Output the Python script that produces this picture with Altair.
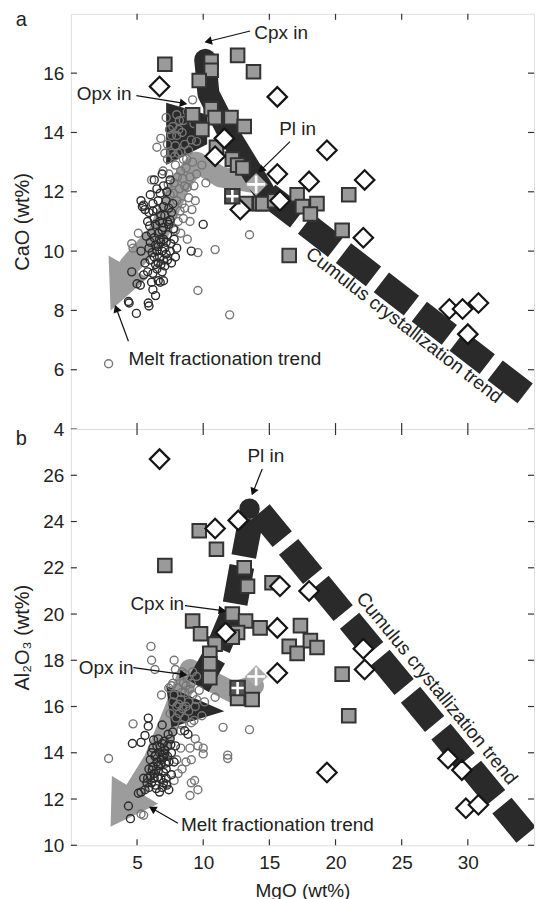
import math
import altair as alt
import pandas as pd

# ------------------------------------------------------------------ data
mgo_ticks = [5, 10, 15, 20, 25, 30]
cao_ticks = [4, 6, 8, 10, 12, 14, 16]
al_ticks = [10, 12, 14, 16, 18, 20, 22, 24, 26]

# ---- panel a : CaO vs MgO
a_circles_dark = [(4.35, 8.3), (4.4, 8.25), (4.95, 7.9), (5.85, 8.25), (5.9, 8.15), (6.4, 8.5), (5.25, 8.85),
                  (6.1, 8.95), (6.75, 8.95), (4.6, 9.3), (5.5, 9.2), (5.8, 9.3), (6.2, 9.25), (6.5, 9.4),
                  (6.9, 9.3), (7.1, 9.5), (7.3, 9.7), (5.6, 9.6), (6.0, 9.7), (6.3, 9.8), (6.7, 9.8),
                  (7.5, 10.0), (5.3, 10.0), (5.9, 10.1), (6.4, 10.2), (6.8, 10.3), (7.2, 10.3), (7.8, 10.4),
                  (5.7, 10.5), (6.1, 10.6), (6.6, 10.6), (7.0, 10.8), (7.4, 10.9), (5.8, 11.0), (6.3, 11.1),
                  (6.8, 11.2), (7.6, 11.3), (5.4, 11.5), (5.6, 11.4), (5.9, 11.3), (6.2, 11.6), (6.6, 11.7),
                  (7.2, 11.7), (6.0, 11.9), (6.5, 12.1), (7.0, 12.2), (6.3, 12.4), (6.9, 12.6), (5.0, 8.9),
                  (6.2, 8.7), (6.6, 9.0), (7.0, 9.0), (7.6, 9.6), (8.0, 10.1), (7.9, 9.8), (6.5, 10.0),
                  (6.9, 10.0), (7.1, 10.1), (6.7, 10.4), (6.9, 10.7), (7.3, 11.0), (6.4, 10.9), (6.5, 11.4),
                  (7.0, 11.5), (10.0, 10.9), (9.1, 10.0), (5.3, 11.7), (5.5, 11.55),
                  (6.6, 9.6), (6.8, 9.55), (7.0, 9.7), (7.2, 9.9), (6.4, 9.55), (6.6, 10.15), (7.0, 10.4),
                  (7.3, 10.55), (6.9, 10.95), (7.1, 11.2), (6.7, 11.0), (7.5, 11.05), (7.7, 11.6), (7.4, 11.45),
                  (6.3, 10.45), (6.0, 10.3), (6.15, 9.95), (7.55, 10.25), (7.75, 10.75), (7.25, 12.0),
                  (6.75, 11.95), (7.5, 12.4), (5.95, 10.85), (6.2, 11.35)]
a_circles_grey = [(2.85, 6.2), (4.7, 10.1), (6.1, 12.4), (6.97, 12.7), (6.5, 13.5), (6.8, 13.8), (7.6, 13.9),
                  (8.2, 14.4), (9.2, 15.1), (7.7, 14.2), (8.0, 13.9), (8.4, 14.0), (8.6, 13.6), (8.1, 13.3),
                  (8.5, 13.1), (8.9, 13.4), (9.2, 13.0), (7.6, 13.3), (7.9, 12.9), (8.3, 12.7), (8.7, 12.8),
                  (9.0, 12.5), (9.5, 12.6), (7.4, 12.6), (7.8, 12.3), (8.2, 12.1), (8.6, 12.2), (9.3, 12.2),
                  (7.5, 11.9), (8.0, 11.7), (8.4, 11.6), (8.9, 11.8), (9.4, 11.7), (7.7, 11.2), (8.1, 11.0),
                  (8.5, 11.1), (9.0, 11.0), (8.3, 10.6), (8.8, 10.4), (7.9, 10.7), (9.6, 9.95), (10.9, 10.05),
                  (10.2, 12.3), (9.6, 8.67), (12.0, 7.85), (13.5, 10.55), (9.8, 14.2), (7.2, 14.5), (8.8, 14.7),
                  (9.5, 13.7), (7.3, 13.1), (9.9, 12.9), (4.6, 10.25), (5.1, 10.6),
                  (7.3, 13.6), (7.9, 13.55), (8.3, 13.35), (8.75, 13.1), (9.1, 13.75), (8.0, 14.6), (8.5, 14.4),
                  (7.45, 14.1), (7.1, 13.3), (8.05, 12.5), (8.45, 12.45), (8.8, 12.15), (9.15, 11.4),
                  (7.75, 11.95), (8.25, 11.35), (8.6, 11.45), (7.35, 12.25), (9.3, 14.3), (8.15, 14.1),
                  (7.85, 13.2)]
a_squares = [(7.1, 16.3), (10.6, 16.4), (10.6, 16.1), (9.7, 15.75), (12.6, 16.6), (13.8, 16.05), (9.2, 14.6),
             (10.6, 14.8), (10.9, 14.5), (12.1, 14.5), (13.1, 14.2), (9.9, 14.1), (11.0, 13.5), (12.2, 13.1),
             (12.6, 12.9), (13.0, 12.8), (13.2, 11.6), (14.3, 11.6), (14.5, 11.6), (15.4, 11.7), (17.1, 11.9),
             (17.5, 11.5), (18.6, 11.6), (18.1, 11.25), (21.0, 11.9), (20.5, 10.7), (16.5, 9.85)]
a_diamonds = [(6.7, 15.55), (11.6, 13.8), (10.9, 13.2), (12.8, 11.4), (15.6, 12.6), (15.6, 15.2), (19.35, 13.4),
              (18.0, 12.35), (15.8, 11.7), (22.2, 12.4), (22.1, 10.45), (28.6, 8.05), (29.6, 8.05), (30.8, 8.25),
              (30.0, 7.2)]
a_plus_square = [(12.2, 11.85)]
a_plus_diamond = [(14.0, 12.25)]
a_cumulus_dashed = [(34.33, 5.2), (14.6, 12.0)]
a_cumulus_solid = [(14.6, 12.0), (12.0, 13.9), (10.4, 15.3), (10.15, 16.45)]
a_opx_wedge_x = [7.2, 10.3]
a_opx_wedge_top = [15.0, 14.6]
a_opx_wedge_bot = [12.9, 13.6]
a_melt = [(14.0, 12.3), (11.3, 12.5), (9.5, 13.0), (8.3, 12.3), (6.6, 10.6), (4.4, 9.5)]
a_melt_head_x = [2.85, 3.0, 5.8]
a_melt_head_top = [9.85, 9.81, 9.1]
a_melt_head_bot = [9.85, 8.0, 9.1]
a_labels = [("Cpx in", 13.86, 17.36), ("Opx in", 0.45, 15.31), ("Pl in", 15.74, 14.1),
            ("Melt fractionation trend", 4.35, 6.35)]
a_arrows = [(13.55, 17.42, 10.2, 17.05), (4.95, 15.24, 8.69, 14.97), (16.56, 13.69, 14.24, 12.68),
            (4.35, 6.96, 3.37, 8.14)]
a_trend_label = ("Cumulus crystallization trend", 25.18, 7.5)

# ---- panel b : Al2O3 vs MgO
b_circles_dark = [(4.35, 11.7), (4.5, 11.15), (5.1, 12.25), (5.3, 12.3), (5.6, 12.4), (5.9, 12.5), (6.1, 12.7),
                  (6.0, 13.0), (6.3, 13.1), (6.6, 13.2), (6.2, 13.4), (6.5, 13.6), (6.8, 13.5), (7.0, 13.8),
                  (6.4, 13.9), (6.7, 14.0), (7.1, 14.1), (7.3, 14.3), (6.9, 14.4), (6.2, 14.2), (6.6, 14.6),
                  (7.5, 14.6), (7.7, 14.9), (7.2, 13.3), (7.4, 13.6), (6.8, 12.9), (7.0, 12.7), (6.4, 12.6),
                  (5.8, 12.9), (5.6, 14.75), (5.3, 14.45), (4.65, 14.4), (5.85, 15.5), (5.85, 15.15), (6.0, 13.7),
                  (7.6, 14.0), (7.9, 14.3), (6.9, 15.2), (7.2, 12.9), (7.4, 12.4), (6.7, 12.3), (8.6, 14.95),
                  (8.85, 14.8), (6.1, 14.0), (6.35, 13.85), (6.9, 13.9), (7.15, 13.55), (6.55, 12.95), (7.0, 13.15),
                  (6.3, 12.9), (6.6, 13.45), (6.85, 13.7), (7.1, 13.95), (7.3, 13.85), (6.5, 14.3), (6.75, 14.25),
                  (7.05, 14.5), (7.35, 14.8), (6.15, 13.25), (6.45, 12.45), (6.9, 12.5), (7.25, 12.6),
                  (7.6, 13.05), (7.8, 13.6), (5.9, 13.3), (5.75, 12.7), (5.5, 12.9), (6.25, 14.55), (7.55, 14.35)]
b_circles_grey = [(2.85, 13.75), (4.7, 15.25), (5.5, 11.3), (5.3, 11.35), (6.05, 18.6), (6.1, 18.0), (6.35, 17.6),
                  (7.8, 18.0), (7.4, 16.8), (6.85, 16.5), (10.9, 16.4), (11.5, 15.1), (13.5, 15.0), (11.85, 13.9),
                  (11.85, 13.75), (9.0, 12.15), (9.6, 12.4), (9.1, 12.7), (8.1, 13.1), (7.2, 12.65), (9.0, 14.2),
                  (10.0, 14.2), (9.1, 13.7), (9.35, 12.8), (9.6, 14.3), (10.0, 13.95), (8.0, 16.0), (8.3, 16.3),
                  (8.6, 16.6), (8.9, 16.2), (9.2, 16.5), (8.1, 16.8), (8.5, 17.0), (8.8, 17.2), (9.1, 17.0),
                  (9.4, 16.0), (8.2, 15.7), (8.6, 15.5), (8.9, 15.8), (9.3, 15.4), (8.0, 17.3), (8.4, 17.5),
                  (9.5, 17.3), (7.7, 16.2), (7.5, 15.7), (9.7, 16.7), (9.9, 15.6), (10.1, 16.2), (7.7, 17.0),
                  (8.3, 14.2), (8.7, 13.6), (8.4, 13.3), (8.0, 13.7), (7.8, 12.8), (8.3, 14.95), (9.4, 14.6),
                  (7.8, 16.5), (8.15, 16.1), (8.45, 15.9), (8.7, 16.0), (9.0, 16.75), (8.35, 16.6), (8.7, 16.9),
                  (7.95, 15.5), (8.4, 15.2), (9.1, 15.3), (9.5, 16.3), (8.6, 17.4), (7.6, 16.9), (9.2, 17.5),
                  (7.9, 17.6)]
b_squares = [(7.1, 22.1), (9.7, 23.6), (11.0, 22.8), (13.1, 22.0), (13.35, 21.2), (9.2, 19.7), (9.8, 19.15),
             (10.9, 18.7), (10.5, 18.3), (10.5, 17.85), (10.5, 17.25), (12.2, 20.0), (13.2, 19.7), (12.6, 19.2),
             (12.2, 19.0), (14.3, 19.4), (12.6, 16.35), (13.7, 16.3), (15.2, 21.35), (17.35, 19.5), (16.5, 18.6),
             (17.1, 18.3), (18.1, 18.85), (18.6, 18.55), (20.5, 17.4), (21.0, 15.6)]
b_diamonds = [(6.7, 26.7), (10.9, 23.7), (12.65, 24.05), (11.7, 19.2), (15.8, 21.2), (18.0, 21.0), (15.6, 19.4),
              (15.6, 17.45), (22.1, 18.5), (22.2, 17.6), (19.35, 13.15), (28.5, 13.75), (29.55, 13.25),
              (29.85, 11.6), (30.8, 11.75)]
b_plus_square = [(12.6, 16.8)]
b_plus_diamond = [(14.0, 17.3)]
b_cumulus_dashed = [(34.4, 10.45), (14.3, 24.4)]
b_cumulus_upper = [(13.6, 24.1), (12.9, 22.0), (12.3, 20.1), (10.9, 18.2), (9.6, 16.9)]
b_pl_blob = [(13.5, 24.55)]
b_opx_wedge_x = [7.2, 7.6, 11.6]
b_opx_wedge_top = [16.9, 16.8, 15.8]
b_opx_wedge_bot = [16.9, 15.1, 15.8]
b_melt = [(13.8, 16.9), (12.3, 16.6), (10.6, 17.1), (9.0, 17.6), (7.8, 15.8), (6.3, 13.7), (4.9, 12.4)]
b_melt_head_x = [3.0, 3.1, 6.6]
b_melt_head_top = [10.8, 13.0, 11.8]
b_melt_head_bot = [10.8, 10.83, 11.8]
b_labels = [("Pl in", 13.34, 26.83), ("Cpx in", 4.5, 20.45), ("Opx in", 0.6, 17.68),
            ("Melt fractionation trend", 8.32, 10.86)]
b_arrows = [(14.46, 26.27, 13.71, 25.19), (8.62, 20.36, 11.62, 20.14), (4.72, 17.68, 8.69, 17.37),
            (8.09, 10.95, 6.0, 11.64)]
b_trend_label = ("Cumulus crystallization trend", 27.65, 16.78)

# ------------------------------------------------------------------ style
FONT = "Liberation Sans"
W = 464
HA, HB = 416, 417
XD = [0, 35]
CAO_D = [4, 18]
AL_D = [10, 28]
BLACK = "#2a2a2a"
GREY_BAND = "#9c9c9c"
TXT = "#222222"
TICK = "#333333"


def pts(pairs):
    return pd.DataFrame({"x": [p[0] for p in pairs], "y": [p[1] for p in pairs]})


def make_panel(d, ydom, H, ytitle, ytick_vals, letter, letter_y, bottom_labels, trend_angle):
    xs = alt.Scale(domain=XD, nice=False, zero=False)
    ys = alt.Scale(domain=ydom, nice=False, zero=False)

    # axes carrying labels / titles (ticks are drawn separately, inward); same definition on every layer
    common = dict(domain=False, grid=False, ticks=False, tickSize=0, labelFont=FONT, labelFontSize=19,
                  labelColor=TXT, labelFlush=False, labelOverlap=False, titleFont=FONT,
                  titleFontWeight="normal", titleColor=TXT)
    yaxis = alt.Axis(values=ytick_vals, labelPadding=7, title=ytitle, titleFontSize=20, titlePadding=10,
                     **common)
    if bottom_labels:
        xaxis = alt.Axis(values=mgo_ticks, labelPadding=8, title="MgO (wt%)", titleFontSize=19,
                         titlePadding=9, **common)
    else:
        xaxis = None

    def X(f="x"):
        return alt.X(f, type="quantitative", scale=xs, axis=xaxis)

    def Y(f="y"):
        return alt.Y(f, type="quantitative", scale=ys, axis=yaxis)

    sx = W / (XD[1] - XD[0])
    sy = H / (ydom[1] - ydom[0])
    layers = []

    # melt fractionation band (grey)
    melt = pts(d["melt"]).reset_index().rename(columns={"index": "i"})
    layers.append(alt.Chart(melt).mark_line(color=GREY_BAND, strokeWidth=21, strokeCap="round",
                                            strokeJoin="round", opacity=1, clip=True)
                  .encode(x=X(), y=Y(), order="i:Q"))
    head = pd.DataFrame({"x": d["melt_head"][0], "y": d["melt_head"][1], "y2": d["melt_head"][2]})
    layers.append(alt.Chart(head).mark_area(color=GREY_BAND, opacity=1).encode(x=X(), y=Y(), y2="y2"))

    # cumulus crystallisation trend (black)
    for path in d["cum_dashed"]:
        df = pts(path).reset_index().rename(columns={"index": "i"})
        layers.append(alt.Chart(df).mark_line(color=BLACK, strokeWidth=25, strokeDash=[38, 10],
                                              strokeCap="butt", strokeJoin="round", opacity=1, clip=True)
                      .encode(x=X(), y=Y(), order="i:Q"))
    if d.get("cum_solid"):
        df = pts(d["cum_solid"]).reset_index().rename(columns={"index": "i"})
        layers.append(alt.Chart(df).mark_line(color=BLACK, strokeWidth=22, strokeCap="round",
                                              strokeJoin="round", opacity=1, clip=True)
                      .encode(x=X(), y=Y(), order="i:Q"))
    if d.get("blob"):
        layers.append(alt.Chart(pts(d["blob"])).mark_point(shape="circle", filled=True, color=BLACK,
                                                          size=420, opacity=1)
                      .encode(x=X(), y=Y()))
    wedge = pd.DataFrame({"x": d["wedge"][0], "y": d["wedge"][1], "y2": d["wedge"][2]})
    layers.append(alt.Chart(wedge).mark_area(color=BLACK, opacity=1).encode(x=X(), y=Y(), y2="y2"))

    # samples
    layers.append(alt.Chart(pts(d["cgrey"])).mark_point(shape="circle", filled=False, color="#767676",
                                                        strokeWidth=1.4, size=64, opacity=1)
                  .encode(x=X(), y=Y()))
    layers.append(alt.Chart(pts(d["cdark"])).mark_point(shape="circle", filled=False, color="#2b2b2b",
                                                        strokeWidth=1.4, size=64, opacity=1)
                  .encode(x=X(), y=Y()))
    layers.append(alt.Chart(pts(d["squares"])).mark_point(shape="square", fill="#9a9a9a", stroke="#333333",
                                                          strokeWidth=2, size=185, opacity=1, fillOpacity=1)
                  .encode(x=X(), y=Y()))
    layers.append(alt.Chart(pts(d["diamonds"])).mark_point(shape="diamond", fill="white", stroke="#151515",
                                                           strokeWidth=2.2, size=380, opacity=1, fillOpacity=1)
                  .encode(x=X(), y=Y()))
    cross = "M-1,0L1,0M0,-1L0,1"
    layers.append(alt.Chart(pts(d["psq"])).mark_point(shape="square", fill="#555555", stroke="#333333",
                                                      strokeWidth=2, size=210, opacity=1, fillOpacity=1)
                  .encode(x=X(), y=Y()))
    layers.append(alt.Chart(pts(d["psq"])).mark_point(shape=cross, filled=False, stroke="white",
                                                      strokeWidth=2.6, size=150, opacity=1)
                  .encode(x=X(), y=Y()))
    layers.append(alt.Chart(pts(d["pdi"])).mark_point(shape="diamond", fill="#a8a8a8", stroke="#a8a8a8",
                                                      strokeWidth=1, size=470, opacity=1, fillOpacity=1)
                  .encode(x=X(), y=Y()))
    layers.append(alt.Chart(pts(d["pdi"])).mark_point(shape=cross, filled=False, stroke="white",
                                                      strokeWidth=2.6, size=320, opacity=1)
                  .encode(x=X(), y=Y()))

    # annotation arrows
    arr = pd.DataFrame(d["arrows"], columns=["x0", "y0", "x1", "y1"])
    layers.append(alt.Chart(arr).mark_rule(color="#111111", strokeWidth=1.2)
                  .encode(x=X("x0"), y=Y("y0"), x2="x1", y2="y1"))
    heads = []
    for x0, y0, x1, y1 in d["arrows"]:
        ux, uy = (x1 - x0) * sx, -(y1 - y0) * sy
        n = math.hypot(ux, uy)
        ux, uy = ux / n, uy / n
        ang = math.degrees(math.atan2(ux, -uy)) % 360
        heads.append({"x": x1 - 3.6 * ux / sx, "y": y1 + 3.6 * uy / sy, "ang": ang})
    layers.append(alt.Chart(pd.DataFrame(heads)).mark_point(shape="triangle", filled=True, color="#111111",
                                                            size=75, opacity=1)
                  .encode(x=X(), y=Y(), angle=alt.Angle("ang", type="quantitative", scale=None)))

    lab = pd.DataFrame(d["labels"], columns=["t", "x", "y"])
    layers.append(alt.Chart(lab).mark_text(font=FONT, fontSize=19, align="left", baseline="middle", color=TXT)
                  .encode(x=X(), y=Y(), text="t"))
    tr = pd.DataFrame([d["trend"]], columns=["t", "x", "y"])
    layers.append(alt.Chart(tr).mark_text(font=FONT, fontSize=19, align="center", baseline="middle",
                                          color=TXT, angle=trend_angle)
                  .encode(x=X(), y=Y(), text="t"))
    let = pd.DataFrame([(letter, -3.75, letter_y)], columns=["t", "x", "y"])
    layers.append(alt.Chart(let).mark_text(font=FONT, fontSize=20, align="center", baseline="alphabetic",
                                           color=TXT)
                  .encode(x=X(), y=Y(), text="t"))

    # inward tick marks on all four sides
    xt = pd.DataFrame({"v": mgo_ticks})
    yt = pd.DataFrame({"v": ytick_vals})
    tick = dict(color=TICK, strokeWidth=1.2)
    layers.append(alt.Chart(xt).mark_rule(**tick).encode(x=X("v"), y=alt.value(0), y2=alt.value(6)))
    layers.append(alt.Chart(xt).mark_rule(**tick).encode(x=X("v"), y=alt.value(H), y2=alt.value(H - 6)))
    layers.append(alt.Chart(yt).mark_rule(**tick).encode(y=Y("v"), x=alt.value(0), x2=alt.value(6)))
    layers.append(alt.Chart(yt).mark_rule(**tick).encode(y=Y("v"), x=alt.value(W), x2=alt.value(W - 6)))

    return alt.layer(*layers).properties(width=W, height=H)


panel_a = make_panel(
    dict(melt=a_melt, melt_head=(a_melt_head_x, a_melt_head_top, a_melt_head_bot),
         cum_dashed=[a_cumulus_dashed], cum_solid=a_cumulus_solid,
         wedge=(a_opx_wedge_x, a_opx_wedge_top, a_opx_wedge_bot),
         cgrey=a_circles_grey, cdark=a_circles_dark, squares=a_squares, diamonds=a_diamonds,
         psq=a_plus_square, pdi=a_plus_diamond, arrows=a_arrows, labels=a_labels, trend=a_trend_label),
    CAO_D, HA, "CaO (wt%)", cao_ticks, "a", 17.6, False, 37.6)

panel_b = make_panel(
    dict(melt=b_melt, melt_head=(b_melt_head_x, b_melt_head_top, b_melt_head_bot),
         cum_dashed=[b_cumulus_dashed, b_cumulus_upper], blob=b_pl_blob,
         wedge=(b_opx_wedge_x, b_opx_wedge_top, b_opx_wedge_bot),
         cgrey=b_circles_grey, cdark=b_circles_dark, squares=b_squares, diamonds=b_diamonds,
         psq=b_plus_square, pdi=b_plus_diamond, arrows=b_arrows, labels=b_labels, trend=b_trend_label),
    AL_D, HB, "Al₂O₃ (wt%)", al_ticks, "b", 27.3, True, 50.7)

chart = alt.vconcat(panel_a, panel_b, spacing=0, bounds="flush").properties(
    padding={"left": 4, "top": 0, "right": 0, "bottom": 0}
).configure_view(stroke="#333333", strokeWidth=1.4).configure(font=FONT)

chart.save("out.html", embed_options={"renderer": "svg", "actions": False})
